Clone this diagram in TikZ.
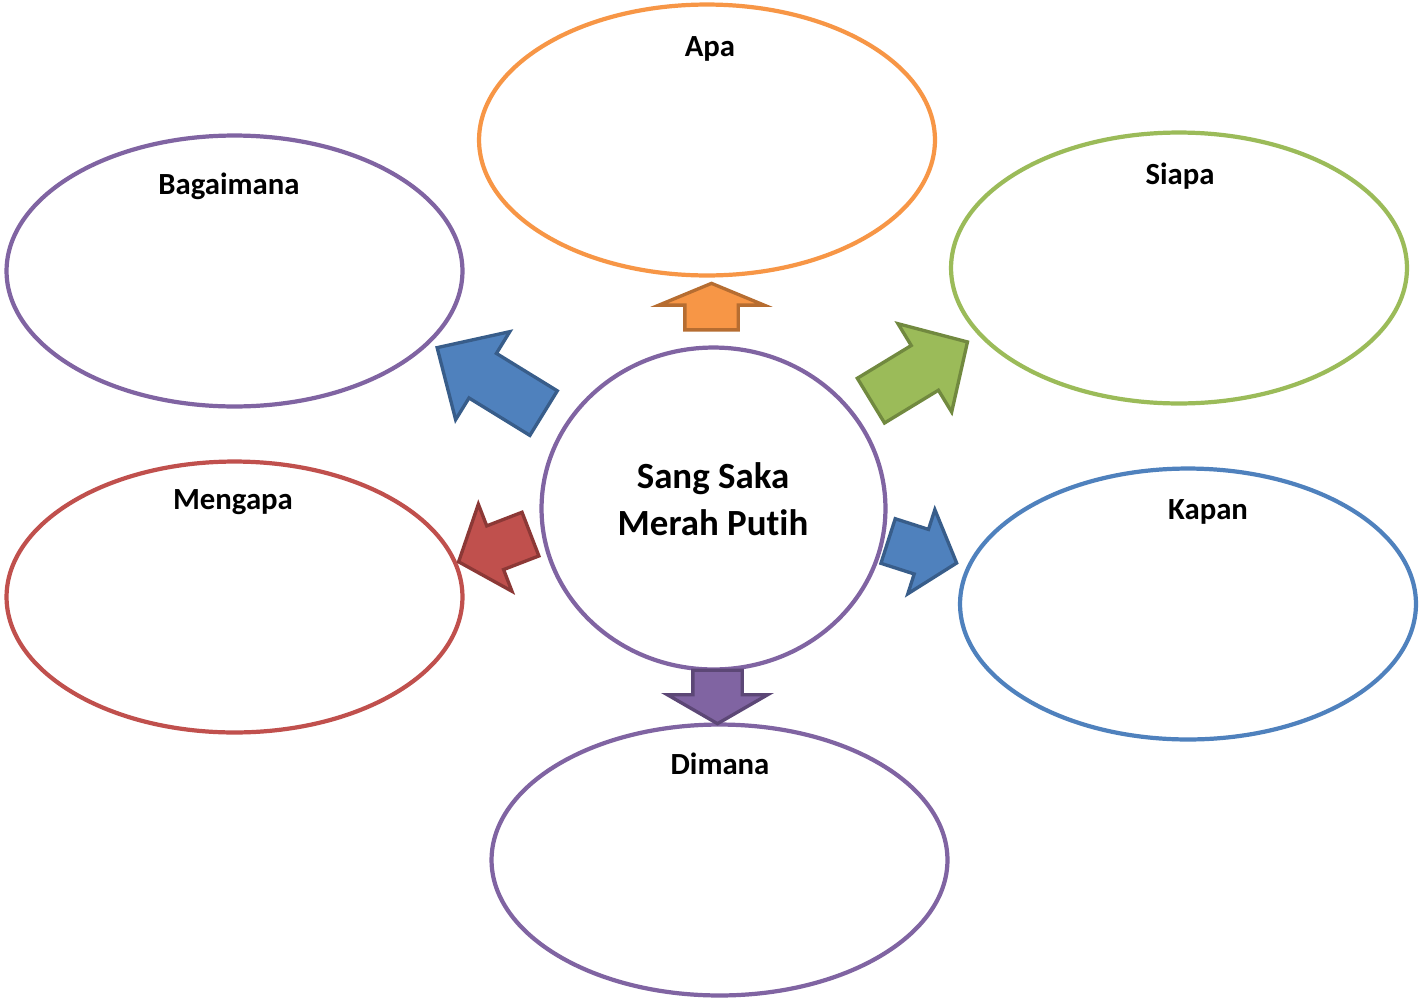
\documentclass[tikz,border=0pt]{standalone}
\usepackage{fontspec}
\setmainfont{Carlito}[Ligatures=NoCommon]
\usetikzlibrary{shapes.geometric,shapes.arrows}
\definecolor{oranye}{HTML}{F79646}
\definecolor{oranyeTua}{HTML}{B66D31}
\definecolor{ungu}{HTML}{8064A2}
\definecolor{unguTua}{HTML}{5C4776}
\definecolor{hijau}{HTML}{9BBB59}
\definecolor{hijauTua}{HTML}{71893F}
\definecolor{merah}{HTML}{C0504D}
\definecolor{merahTua}{HTML}{8C3836}
\definecolor{biru}{HTML}{4F81BD}
\definecolor{biruTua}{HTML}{385D8A}
\tikzset{
  gelembung/.style={draw=#1, ellipse, line width=2.4pt, fill=white,
    minimum width=9.12cm, minimum height=5.42cm, inner sep=0pt},
  tanya/.style={font=\bfseries\fontsize{17.5}{21}\selectfont},
  panah/.style n args={2}{single arrow, fill=#1, draw=#2, line width=1.9pt,
    inner xsep=0pt, anchor=tail}
}
\begin{document}
\begin{tikzpicture}[x=0.02cm, y=-0.02cm]
        \useasboundingbox (0,0) rectangle (1419,1001);
        % Nodes
        \node (apa) [gelembung=oranye] at (707,140) {};
        \node (bagaimana) [gelembung=ungu] at (234.5,271) {};
        \node (siapa) [gelembung=hijau] at (1179,268) {};
        \node (mengapa) [gelembung=merah] at (234.5,597) {};
        \node (kapan) [gelembung=biru] at (1188,604) {};
        \node (dimana) [gelembung=ungu] at (719.5,860) {};
        \node (pusat) [draw=ungu, ellipse, line width=2.4pt, minimum width=6.88cm,
          minimum height=6.44cm, inner sep=0pt] at (713.5,508.5) {};

        % Labels
        \node (tApa) [tanya] at (710,49) {Apa};
        \node (tBagaimana) [tanya] at (229,186) {Bagaimana};
        \node (tSiapa) [tanya] at (1180,176) {Siapa};
        \node (tMengapa) [tanya] at (233,502) {Mengapa};
        \node (tKapan) [tanya] at (1208,512) {Kapan};
        \node (tDimana) [tanya] at (720,764) {Dimana};
        \node (judul) [align=center, font=\bfseries\fontsize{21}{27}\selectfont]
          at (713,499) {Sang Saka\\Merah Putih};

        % Arrows
        \node (pApa) [panah={oranye}{oranyeTua}, rotate=90, minimum height=0.93cm,
          inner ysep=0.5cm, single arrow head extend=0.52cm,
          single arrow tip angle=135] at (711.5,331.5) {};
        \node (pDimana) [panah={ungu}{unguTua}, rotate=-90, minimum height=1.07cm,
          inner ysep=0.46cm, single arrow head extend=0.51cm,
          single arrow tip angle=120] at (717.5,668.5) {};
        \node (pBagaimana) [panah={biru}{biruTua}, rotate=148.4, minimum height=2.5cm,
          inner ysep=0.49cm, single arrow head extend=0.51cm,
          single arrow tip angle=88] at (545,414) {};
        \node (pSiapa) [panah={hijau}{hijauTua}, rotate=31.3, minimum height=2.26cm,
          inner ysep=0.49cm, single arrow head extend=0.51cm,
          single arrow tip angle=92] at (869.5,401.5) {};
        \node (pMengapa) [panah={merah}{merahTua}, rotate=201.1, minimum height=1.54cm,
          inner ysep=0.435cm, single arrow head extend=0.465cm,
          single arrow tip angle=100] at (532,533.5) {};
        \node (pKapan) [panah={biru}{biruTua}, rotate=-17.8, minimum height=1.44cm,
          inner ysep=0.435cm, single arrow head extend=0.415cm,
          single arrow tip angle=100] at (886.5,540.5) {};
    \end{tikzpicture}
\end{document}
